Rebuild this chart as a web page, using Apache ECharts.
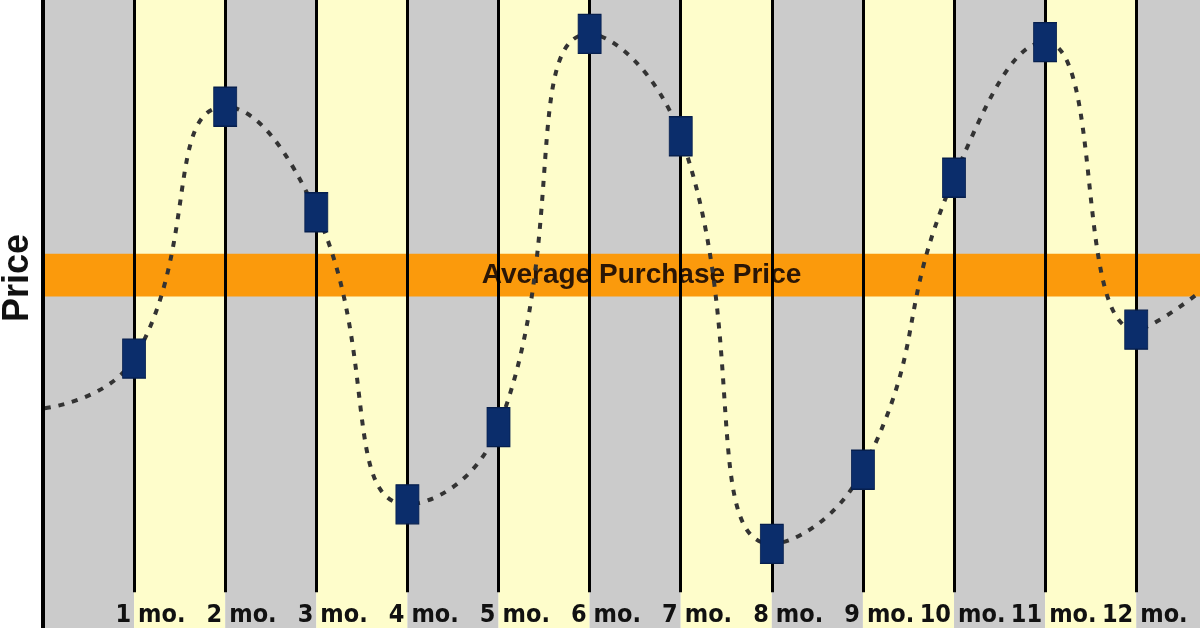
<!DOCTYPE html>
<html>
<head>
<meta charset="utf-8">
<script src="https://cdn.jsdelivr.net/npm/echarts@6/dist/echarts.min.js"></script>
<style>html,body{margin:0;padding:0;background:#fff}#c{width:1200px;height:628px}</style>
</head>
<body>
<div id="c"></div>
<script>
// ---- data ----
var monthNumbers = ['1','2','3','4','5','6','7','8','9','10','11','12'];
var monthSuffix = 'mo.';
var months = [1,2,3,4,5,6,7,8,9,10,11,12];
var prices = [42.9, 83.0, 66.2, 19.7, 32.0, 94.6, 78.3, 13.4, 25.2, 71.7, 93.3, 47.5];
var curveStart = [0.02, 35.0];
var curveEnd = [12.7, 53.5];
var averageBand = [52.8, 59.6];
var averageLabel = 'Average Purchase Price';
var axisName = 'Price';
var bandEdges = [0,1,2,3,4,5,6,7,8,9,10,11,12,12.7];
var gridLineBottom = 5.7;

var X_MAX = 12.7, Y_MAX = 100;
var GRAY = '#cbcbcb', YELLOW = '#fefdcb';

var bandData = [];
for (var i = 0; i < bandEdges.length - 1; i++) {
  bandData.push([
    {xAxis: bandEdges[i], yAxis: 0, itemStyle: {color: i % 2 === 0 ? GRAY : YELLOW, opacity: 1}},
    {xAxis: bandEdges[i+1], yAxis: Y_MAX}
  ]);
}
var vLines = months.map(function (m) {
  return [{coord: [m, Y_MAX]}, {coord: [m, gridLineBottom]}];
});
var curve = [curveStart].concat(months.map(function (m, i) { return [m, prices[i]]; })).concat([curveEnd]);
var markers = months.map(function (m, i) { return [m, prices[i]]; });

var labelFont = '"DejaVu Sans Condensed", "DejaVu Sans", sans-serif';

function isMonth(v) { var k = Math.round(v); return Math.abs(v - k) < 1e-6 && k >= 1 && k <= 12 ? k : 0; }

var chart = echarts.init(document.getElementById('c'));
chart.setOption({
  animation: false,
  backgroundColor: '#ffffff',
  grid: {left: 43, right: 0, top: 0, bottom: 0, containLabel: false, outerBoundsMode: 'none'},
  xAxis: [{
    type: 'value', min: 0, max: X_MAX, interval: 1, position: 'bottom', z: 20,
    axisLine: {show: false}, axisTick: {show: false}, splitLine: {show: false},
    axisLabel: {
      inside: true, margin: 13, align: 'right', verticalAlign: 'middle',
      padding: [0, 3, 0, 0], hideOverlap: false,
      fontFamily: labelFont, fontWeight: 'bold', fontSize: 25, color: '#111',
      formatter: function (v) { var k = isMonth(v); return k ? monthNumbers[k-1] : ''; }
    }
  }, {
    type: 'value', min: 0, max: X_MAX, interval: 1, position: 'bottom', z: 20,
    axisLine: {show: false}, axisTick: {show: false}, splitLine: {show: false},
    axisLabel: {
      inside: true, margin: 13, align: 'left', verticalAlign: 'middle',
      padding: [0, 0, 0, 4], hideOverlap: false,
      fontFamily: labelFont, fontWeight: 'bold', fontSize: 25, color: '#111',
      formatter: function (v) { return isMonth(v) ? monthSuffix : ''; }
    }
  }],
  yAxis: {
    type: 'value', min: 0, max: Y_MAX, z: 20,
    name: axisName, nameLocation: 'middle', nameRotate: 90, nameGap: 7,
    nameTextStyle: {fontFamily: '"Liberation Sans", Arial, sans-serif', fontWeight: 'bold', fontSize: 36, color: '#111',
      padding: [0, 0, 0, 72]},
    axisLine: {show: true, lineStyle: {color: '#000', width: 4}},
    axisTick: {show: false}, axisLabel: {show: false}, splitLine: {show: false}
  },
  series: [
    {
      type: 'line', data: [], z: 1, silent: true,
      markArea: {silent: true, data: bandData}
    },
    {
      type: 'line', data: [], z: 2, silent: true,
      markLine: {silent: true, symbol: 'none', label: {show: false},
        lineStyle: {color: '#000', width: 3, type: 'solid', opacity: 1}, data: vLines}
    },
    {
      type: 'line', data: curve, z: 3, smooth: true, symbol: 'none', silent: true,
      lineStyle: {color: '#333', width: 4, type: [6, 8]}
    },
    {
      type: 'line', data: [], z: 4, silent: true,
      markArea: {silent: true,
        itemStyle: {color: '#fb9a0c', opacity: 1},
        label: {show: true, position: 'inside', offset: [20, 0], formatter: averageLabel,
          fontFamily: '"Liberation Sans", Arial, sans-serif', fontWeight: 'bold', fontSize: 28, color: '#2a1606'},
        data: [[{xAxis: 0, yAxis: averageBand[0]}, {xAxis: X_MAX, yAxis: averageBand[1]}]]
      }
    },
    {
      type: 'scatter', data: markers, z: 5, silent: true,
      symbol: 'rect', symbolSize: [23, 39],
      itemStyle: {color: '#0b2d6b', borderColor: '#061f4e', borderWidth: 1, opacity: 1}
    }
  ]
});
</script>
</body>
</html>
